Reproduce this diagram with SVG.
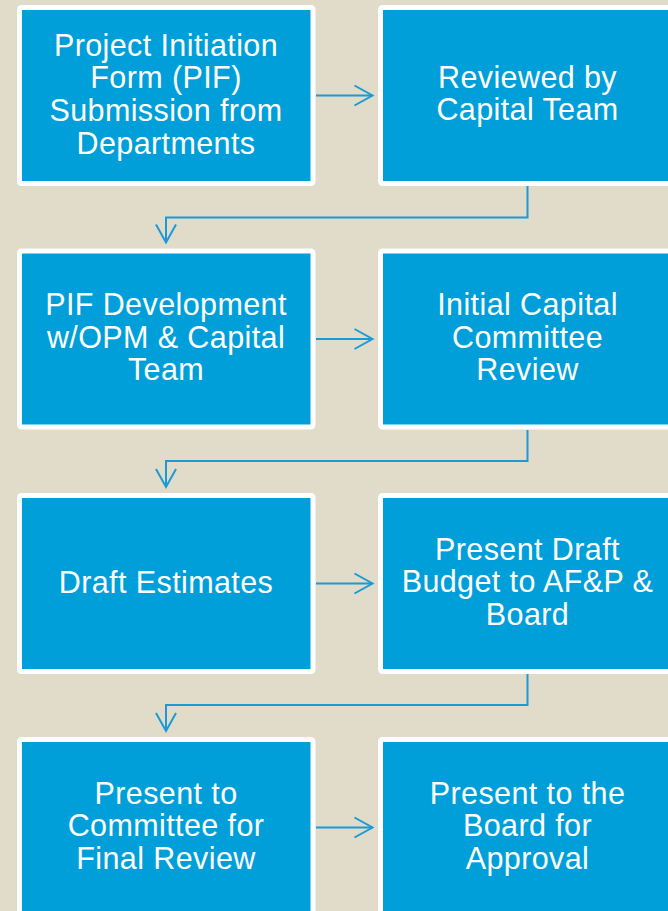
<svg xmlns="http://www.w3.org/2000/svg" width="668" height="911" viewBox="0 0 668 911">
<style>
.box{fill:#009FDA;stroke:#FFFFFF;stroke-width:5}
.t{font-family:"Liberation Sans",Arial,sans-serif;font-size:30.5px;fill:#FFFFFF;text-anchor:middle;letter-spacing:0.4px}
.c{fill:none;stroke:#1A9AD6;stroke-width:2}
</style>
<defs>
<marker id="ah" viewBox="-21 -12 24 24" markerWidth="24" markerHeight="24" refX="0" refY="0" orient="auto" markerUnits="userSpaceOnUse">
<path d="M-18,-10 L0,0 L-18,10" fill="none" stroke="#1A9AD6" stroke-width="2"/>
</marker>
</defs>
<rect width="668" height="911" fill="#E1DBCA"/>
<g id="n1"><rect class="box" x="19.5" y="7.5" width="293.5" height="176" rx="2"/>
<text class="t" x="166"><tspan x="166" y="55.5">Project Initiation</tspan><tspan x="166" y="88.2">Form (PIF)</tspan><tspan x="166" y="120.9">Submission from</tspan><tspan x="166" y="153.6">Departments</tspan></text></g>
<g id="n2"><rect class="box" x="380.5" y="7.5" width="293.5" height="176" rx="2"/>
<text class="t"><tspan x="527.5" y="87.5">Reviewed by</tspan><tspan x="527.5" y="120.3">Capital Team</tspan></text></g>
<g id="n3"><rect class="box" x="19.5" y="251" width="293.5" height="176" rx="2"/>
<text class="t"><tspan x="166" y="315">PIF Development</tspan><tspan x="166" y="347.7">w/OPM &amp; Capital</tspan><tspan x="166" y="380.4">Team</tspan></text></g>
<g id="n4"><rect class="box" x="380.5" y="251" width="293.5" height="176" rx="2"/>
<text class="t"><tspan x="527.5" y="315">Initial Capital</tspan><tspan x="527.5" y="347.7">Committee</tspan><tspan x="527.5" y="380.4">Review</tspan></text></g>
<g id="n5"><rect class="box" x="19.5" y="495.5" width="293.5" height="176" rx="2"/>
<text class="t"><tspan x="166" y="592.5">Draft Estimates</tspan></text></g>
<g id="n6"><rect class="box" x="380.5" y="495.5" width="293.5" height="176" rx="2"/>
<text class="t"><tspan x="527.5" y="559.5">Present Draft</tspan><tspan x="527.5" y="592.2">Budget to AF&amp;P &amp;</tspan><tspan x="527.5" y="624.9">Board</tspan></text></g>
<g id="n7"><rect class="box" x="19.5" y="739.5" width="293.5" height="176" rx="2"/>
<text class="t"><tspan x="166" y="803.5">Present to</tspan><tspan x="166" y="836.2">Committee for</tspan><tspan x="166" y="868.9">Final Review</tspan></text></g>
<g id="n8"><rect class="box" x="380.5" y="739.5" width="293.5" height="176" rx="2"/>
<text class="t"><tspan x="527.5" y="803.5">Present to the</tspan><tspan x="527.5" y="836.2">Board for</tspan><tspan x="527.5" y="868.9">Approval</tspan></text></g>
<g id="connectors">
<path class="c" d="M316,95.5 H372.5" marker-end="url(#ah)"/>
<path class="c" d="M316,339 H372.5" marker-end="url(#ah)"/>
<path class="c" d="M316,583.5 H372.5" marker-end="url(#ah)"/>
<path class="c" d="M316,827.5 H372.5" marker-end="url(#ah)"/>
<path class="c" d="M527.5,186 V217.5 H166 V242.5" marker-end="url(#ah)"/>
<path class="c" d="M527.5,430 V461 H166 V487" marker-end="url(#ah)"/>
<path class="c" d="M527.5,674 V705 H166 V731" marker-end="url(#ah)"/>
</g>
</svg>
